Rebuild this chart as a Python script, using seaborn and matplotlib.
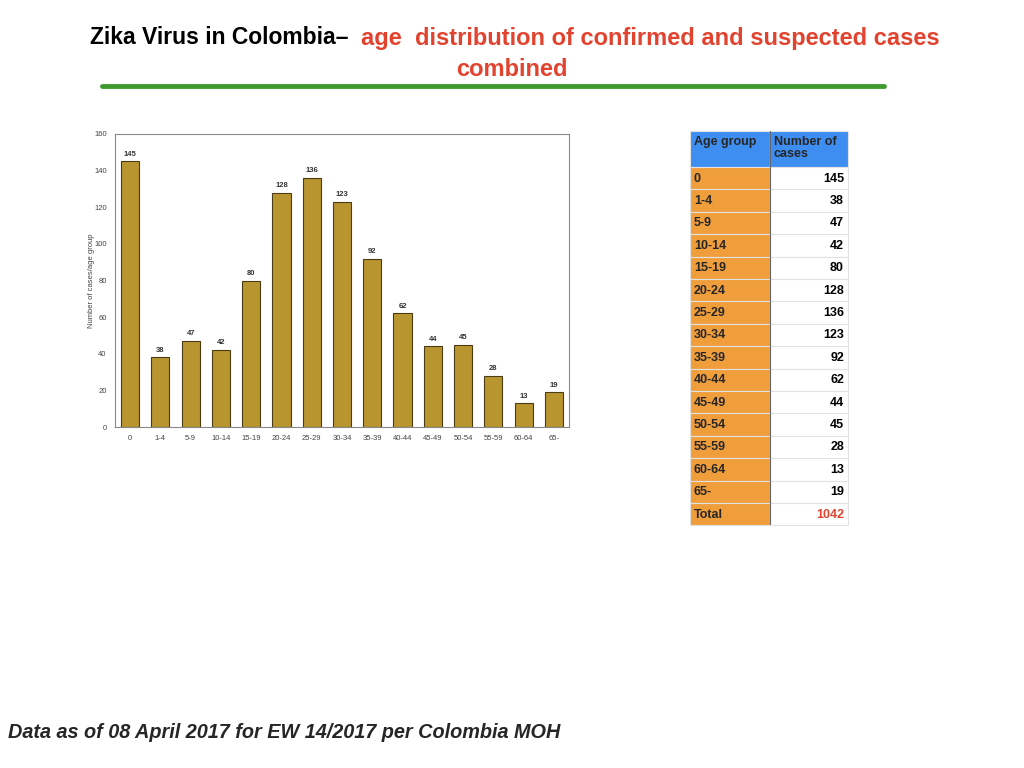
import numpy as np
import pandas as pd
import seaborn as sns
import matplotlib
matplotlib.use('Agg')
import matplotlib.pyplot as plt

# dados
age_groups = ['0', '1-4', '5-9', '10-14', '15-19', '20-24', '25-29', '30-34',
              '35-39', '40-44', '45-49', '50-54', '55-59', '60-64', '65-']
cases = [145, 38, 47, 42, 80, 128, 136, 123, 92, 62, 44, 45, 28, 13, 19]
total = 1042

df = pd.DataFrame({'age': age_groups, 'cases': cases})

sns.set_style('white')
plt.rcParams['font.family'] = ['Liberation Sans', 'DejaVu Sans']

fig = plt.figure(figsize=(10.24, 7.68), dpi=100)
fig.patch.set_facecolor('white')

# grafico de barras
ax = fig.add_axes([115/1024, 1-427/768, 454/1024, 293/768])
sns.barplot(data=df, x='age', y='cases', color='#B8952F', saturation=1,
            width=0.6, edgecolor='#4a3c14', linewidth=0.8, ax=ax)
ax.set_ylim(0, 160)
ax.set_yticks(range(0, 161, 20))
ax.set_xlim(-0.5, len(age_groups) - 0.5)
ax.set_xlabel('')
ax.set_ylabel('Number of cases/age group', fontsize=5.5, color='#444444', labelpad=-1)
ax.tick_params(axis='both', labelsize=5.5, colors='#444444', length=0, pad=6)
for s in ax.spines.values():
    s.set_color('#888888')
    s.set_linewidth(0.8)
for i, v in enumerate(cases):
    ax.text(i, v + 2, str(v), ha='center', va='bottom', fontsize=5.5,
            fontweight='bold', color='#333333')

# tabela (celulas pelo ax.table, textos posicionados a mao)
head_h, row_h = 36, 22.4
col_w = [80, 78]
tab_w = sum(col_w)
tab_h = head_h + row_h * (len(age_groups) + 1)
tax = fig.add_axes([690/1024, 1-(131 + tab_h)/768, tab_w/1024, tab_h/768])
tax.axis('off')
tax.set_xlim(0, tab_w)
tax.set_ylim(tab_h, 0)

labels = age_groups + ['Total']
values = [str(c) for c in cases] + [str(total)]
cell_text = [['', '']] * (len(labels) + 1)
tbl = tax.table(cellText=cell_text, bbox=[0, 0, 1, 1], colWidths=col_w)
for (r, c), cell in tbl.get_celld().items():
    cell.set_height(head_h if r == 0 else row_h)
    cell.set_edgecolor('#e2e2e2')
    cell.set_linewidth(0.8)
    if r == 0:
        cell.set_facecolor('#3E8EF2')
    elif c == 0:
        cell.set_facecolor('#F09E3C')
    else:
        cell.set_facecolor('white')
tax.plot([col_w[0], col_w[0]], [0, tab_h], color='#666666', linewidth=0.8)

tax.text(4, 5, 'Age group', ha='left', va='top', fontsize=9, fontweight='bold')
tax.text(col_w[0] + 4, 5, 'Number of\ncases', ha='left', va='top', fontsize=9,
         fontweight='bold', linespacing=1.05)
for i, (lab, val) in enumerate(zip(labels, values)):
    y = head_h + row_h * i + row_h * 0.52
    tax.text(4, y, lab, ha='left', va='center', fontsize=9, fontweight='bold')
    tax.text(tab_w - 4, y, val, ha='right', va='center', fontsize=9, fontweight='bold',
             color='#E2432F' if lab == 'Total' else 'black')

# titulo
fig.text(348/1024, 1-38/768, 'Zika Virus in Colombia\u2013', ha='right', va='center',
         fontsize=16.5, fontweight='bold', color='black')
fig.text(361/1024, 1-38/768, 'age  distribution of confirmed and suspected cases',
         ha='left', va='center', fontsize=17, fontweight='bold', color='#E2432F')
fig.text(512/1024, 1-70/768, 'combined', ha='center', va='center',
         fontsize=17, fontweight='bold', color='#E2432F')
fig.add_artist(plt.Line2D([102/1024, 884/1024], [1-86/768, 1-86/768],
                          color='#3E9A2E', linewidth=3.5))

# rodape
fig.text(8/1024, 1-733/768, 'Data as of 08 April 2017 for EW 14/2017 per Colombia MOH',
         ha='left', va='center', fontsize=14.3, fontweight='bold', style='italic')

fig.savefig('out.png', dpi=100)
